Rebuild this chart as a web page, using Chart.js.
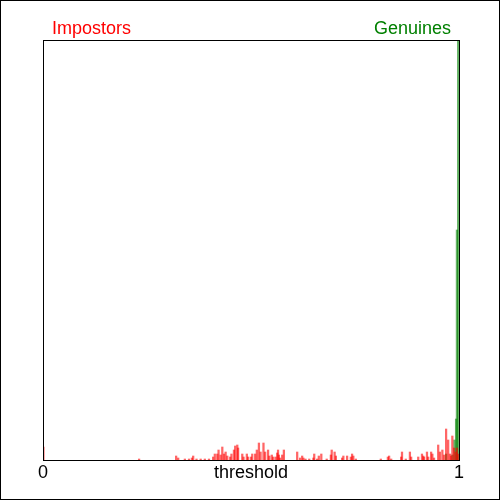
<!DOCTYPE html>
<html>
<head>
<meta charset="utf-8">
<script src="https://cdn.jsdelivr.net/npm/chart.js@4"></script>
<style>
  html, body { margin: 0; padding: 0; background: #fff; }
  #wrap { width: 500px; height: 500px; }
</style>
</head>
<body>
<div id="wrap"><canvas id="myChart" width="500" height="500"></canvas></div>
<script>
// histogram bins: threshold position and count
const impostorX = [
    0.001, 0.231, 0.320, 0.325, 0.341, 0.351, 0.358, 0.361, 0.369, 0.379,
    0.389, 0.399, 0.409, 0.413, 0.419, 0.422, 0.427, 0.431, 0.435, 0.439,
    0.443, 0.450, 0.453, 0.459, 0.462, 0.467, 0.469, 0.479, 0.482, 0.490,
    0.493, 0.500, 0.503, 0.510, 0.514, 0.519, 0.523, 0.530, 0.534, 0.541,
    0.544, 0.550, 0.553, 0.559, 0.563, 0.565, 0.567, 0.570, 0.575, 0.579,
    0.611, 0.618, 0.623, 0.626, 0.631, 0.640, 0.650, 0.652, 0.659, 0.663,
    0.669, 0.682, 0.692, 0.694, 0.701, 0.704, 0.719, 0.722, 0.731, 0.740,
    0.743, 0.746, 0.752, 0.812, 0.829, 0.832, 0.837, 0.861, 0.863, 0.872,
    0.882, 0.885, 0.902, 0.911, 0.914, 0.916, 0.923, 0.926, 0.933, 0.936,
    0.940, 0.950, 0.954, 0.960, 0.964, 0.969, 0.974, 0.978, 0.981, 0.984,
    0.988, 0.992, 0.995, 0.998
];
const impostorCounts = [
    13, 1, 4, 2, 1, 1, 2, 4, 1, 1,
    1, 1, 3, 6, 6, 10, 5, 13, 6, 8,
    4, 3, 6, 10, 14, 15, 12, 6, 3, 6,
    3, 3, 6, 6, 10, 17, 8, 17, 8, 10,
    4, 5, 3, 3, 7, 10, 5, 2, 5, 10,
    8, 2, 4, 2, 1, 1, 2, 6, 1, 4,
    6, 1, 5, 10, 8, 4, 2, 4, 4, 3,
    6, 4, 1, 1, 3, 4, 1, 3, 8, 1,
    8, 3, 3, 6, 4, 3, 8, 3, 8, 6,
    2, 15, 8, 10, 5, 31, 20, 6, 4, 24,
    12, 8, 12, 6
];
const genuineX = [0.969, 0.984, 0.989, 0.993, 0.995, 0.998];
const genuineCounts = [6, 5, 20, 41, 230, 430];

const tickValues = [0, 0.5, 1];
const tickLabels = ["0", "threshold", "1"];

const ctx = document.getElementById("myChart");

const toPoints = (xs, ys) => xs.map((x, i) => ({ x: x, y: ys[i] }));

// frame, outer border and the texts
const decor = {
    id: "decor",
    afterDraw(chart) {
        const c = chart.ctx;
        const a = chart.chartArea;
        const xs = chart.scales.x;
        c.save();
        c.strokeStyle = "#000";
        c.lineWidth = 1;
        c.strokeRect(0.5, 0.5, 499, 499);
        c.strokeRect(a.left + 0.5, a.top + 0.5, a.right - a.left, a.bottom - a.top);
        c.font = "18px 'Liberation Sans', Arial, sans-serif";
        c.textBaseline = "alphabetic";
        c.fillStyle = "#ff0000";
        c.textAlign = "left";
        c.fillText("Impostors", 52, 34);
        c.fillStyle = "#008000";
        c.textAlign = "right";
        c.fillText("Genuines", 451, 34);
        c.fillStyle = "#000";
        c.textAlign = "center";
        tickValues.forEach((v, i) => {
            c.fillText(tickLabels[i], xs.getPixelForValue(v), 478);
        });
        c.restore();
    },
};

new Chart(ctx, {
    type: "bar",
    data: {
        datasets: [
            {
                label: "Impostors",
                data: toPoints(impostorX, impostorCounts),
                backgroundColor: "rgba(255, 0, 0, 0.6)",
            },
            {
                label: "Genuines",
                data: toPoints(genuineX, genuineCounts),
                backgroundColor: "rgba(0, 128, 0, 0.6)",
            },
        ],
    },
    options: {
        responsive: false,
        animation: false,
        events: [],
        layout: { padding: { left: 43, right: 41, top: 40, bottom: 40 } },
        datasets: {
            bar: { grouped: false, barThickness: 1.6, borderWidth: 0 },
        },
        plugins: {
            legend: { display: false },
            tooltip: { enabled: false },
        },
        scales: {
            x: { type: "linear", min: 0, max: 1, offset: false, display: false },
            y: { min: 0, max: 420, display: false },
        },
    },
    plugins: [decor],
});
</script>
</body>
</html>
